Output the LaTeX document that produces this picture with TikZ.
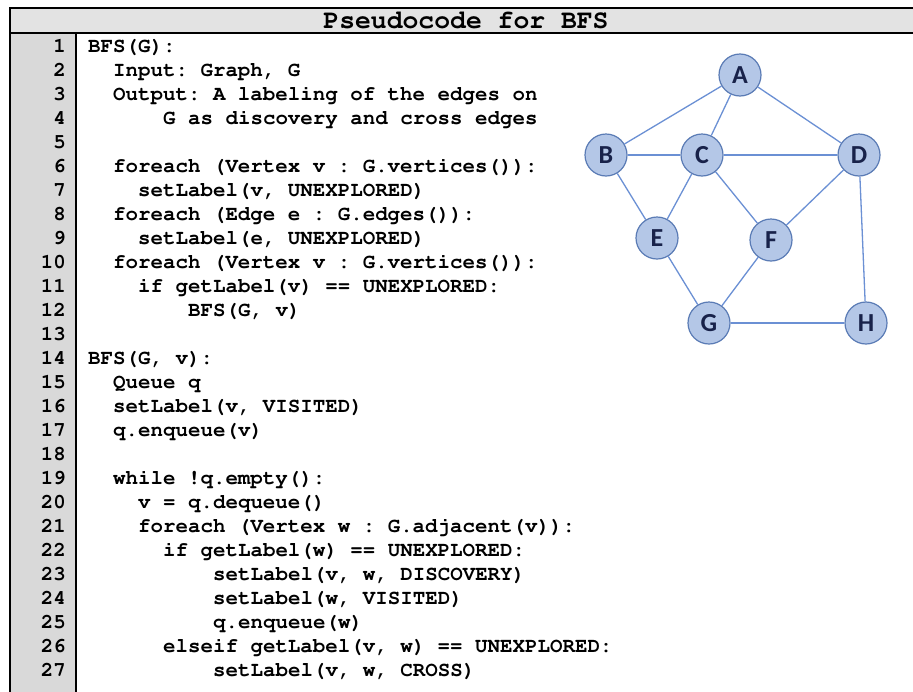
\documentclass[tikz,border=0pt]{standalone}
\usepackage{fontspec}
\newfontfamily\vtxfont{Carlito}
\newcommand\cour{\fontencoding{T1}\fontfamily{pcr}\fontseries{b}\selectfont\frenchspacing}
\definecolor{titlegray}{HTML}{E3E3E3}
\definecolor{numgray}{HTML}{D9D9D9}
\definecolor{vfill}{HTML}{B4C7E7}
\definecolor{vline}{HTML}{5A7BB5}
\definecolor{eline}{HTML}{6B90D4}
\definecolor{vtext}{HTML}{18224A}

\begin{document}
\begin{tikzpicture}[x=1pt,y=-1pt,
  code/.style={anchor=base west,inner sep=0,font=\fontsize{20.8}{24}\cour},
  num/.style={anchor=base east,inner sep=0,font=\fontsize{20.8}{24}\cour},
  vtx/.style={circle,draw=vline,fill=vfill,line width=1.2,minimum size=42,inner sep=0,text=vtext,font=\fontsize{26}{26}\selectfont\vtxfont\bfseries},
  edge/.style={draw=eline,line width=1.3}]
\clip (0,0) rectangle (913,691);
\fill[white] (0,0) rectangle (913,691);
\filldraw[fill=titlegray,line width=2.5] (10,8) rectangle (940,33);
\filldraw[fill=numgray,line width=2.5] (10,33) rectangle (76,720);
\draw[line width=2.5] (940,33) -- (940,720);
\node[code,anchor=center,font=\fontsize{26.4}{26}\cour] (title) at (466,20) {Pseudocode for BFS};
\foreach \i in {1,...,27}
  \node[num] (n\i) at (66,{52+24*(\i-1)}) {\i};

\node[code] (c1) at (88,52) {BFS(G):};
\node[code] (c2) at (113,76) {Input: Graph, G};
\node[code] (c3) at (113,100) {Output: A labeling of the edges on};
\node[code] (c4) at (163,124) {G as discovery and cross edges};
\node[code] (c6) at (113,172) {foreach (Vertex v : G.vertices()):};
\node[code] (c7) at (138,196) {setLabel(v, UNEXPLORED)};
\node[code] (c8) at (113,220) {foreach (Edge e : G.edges()):};
\node[code] (c9) at (138,244) {setLabel(e, UNEXPLORED)};
\node[code] (c10) at (113,268) {foreach (Vertex v : G.vertices()):};
\node[code] (c11) at (138,292) {if getLabel(v) == UNEXPLORED:};
\node[code] (c12) at (188,316) {BFS(G, v)};
\node[code] (c14) at (88,364) {BFS(G, v):};
\node[code] (c15) at (113,388) {Queue q};
\node[code] (c16) at (113,412) {setLabel(v, VISITED)};
\node[code] (c17) at (113,436) {q.enqueue(v)};
\node[code] (c19) at (113,484) {while !q.empty():};
\node[code] (c20) at (138,508) {v = q.dequeue()};
\node[code] (c21) at (138,532) {foreach (Vertex w : G.adjacent(v)):};
\node[code] (c22) at (163,556) {if getLabel(w) == UNEXPLORED:};
\node[code] (c23) at (213,580) {setLabel(v, w, DISCOVERY)};
\node[code] (c24) at (213,604) {setLabel(w, VISITED)};
\node[code] (c25) at (213,628) {q.enqueue(w)};
\node[code] (c26) at (163,652) {elseif getLabel(v, w) == UNEXPLORED:};
\node[code] (c27) at (213,676) {setLabel(v, w, CROSS)};

\node[vtx] (A) at (740,75) {A};
\node[vtx] (B) at (606,155) {B};
\node[vtx] (C) at (702,155) {C};
\node[vtx] (D) at (859,155) {D};
\node[vtx] (E) at (657,238) {E};
\node[vtx] (F) at (771,240) {F};
\node[vtx] (G) at (709,323) {G};
\node[vtx] (H) at (866,323) {H};
\draw[edge] (A) -- (B);
\draw[edge] (A) -- (C);
\draw[edge] (A) -- (D);
\draw[edge] (B) -- (C);
\draw[edge] (C) -- (D);
\draw[edge] (B) -- (E);
\draw[edge] (C) -- (E);
\draw[edge] (C) -- (F);
\draw[edge] (D) -- (F);
\draw[edge] (D) -- (H);
\draw[edge] (E) -- (G);
\draw[edge] (F) -- (G);
\draw[edge] (G) -- (H);
\end{tikzpicture}
\end{document}
